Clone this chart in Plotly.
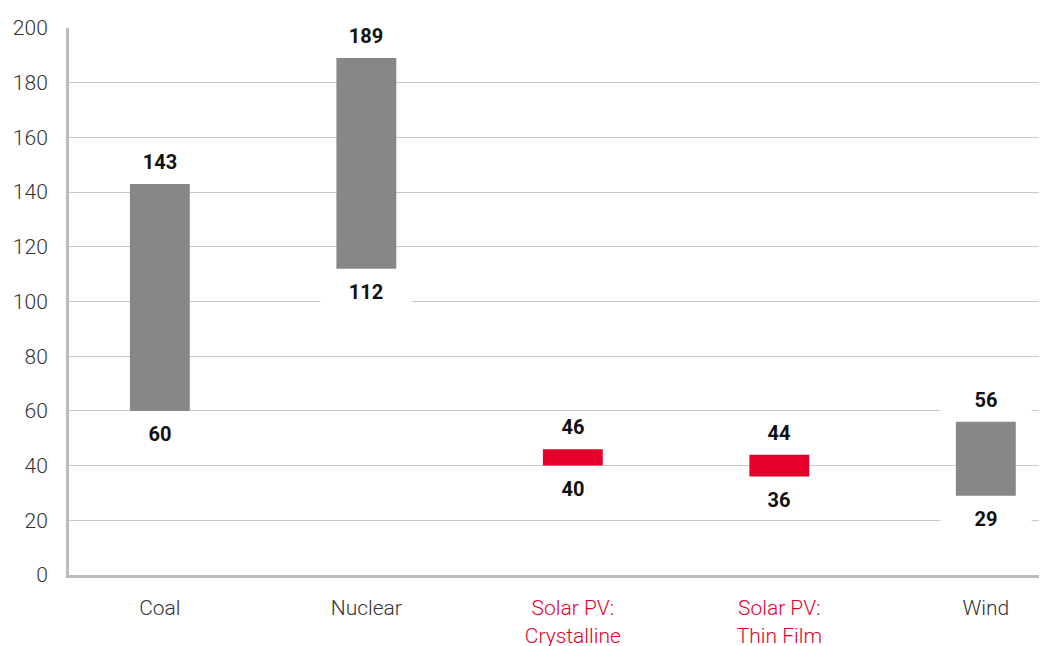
import plotly.graph_objects as go

categories = ["Coal", "Nuclear", "Solar PV:<br>Crystalline", "Solar PV:<br>Thin Film", "Wind"]
low_values = [60, 112, 40, 36, 29]
high_values = [143, 189, 46, 44, 56]
is_solar = [False, False, True, True, False]
y_ticks = [0, 20, 40, 60, 80, 100, 120, 140, 160, 180, 200]

GRAY = "#878785"
RED = "#e4002b"
FONT = "Roboto, DejaVu Sans, sans-serif"

colors = [RED if s else GRAY for s in is_solar]
x_idx = list(range(len(categories)))

fig = go.Figure()
fig.add_trace(go.Bar(
    x=x_idx,
    y=[h - l for h, l in zip(high_values, low_values)],
    base=low_values,
    marker=dict(color=colors, line=dict(width=0)),
    width=0.29,
    hoverinfo="skip",
))

annotations = []
for i, (lo, hi) in enumerate(zip(low_values, high_values)):
    for val, shift in ((hi, 22), (lo, -23)):
        annotations.append(dict(
            x=i, y=val, xref="x", yref="y", text=f"<b>{val}</b>",
            showarrow=False, yshift=shift, yanchor="middle",
            font=dict(family=FONT, size=20, color="#111"),
            bgcolor="white", width=88, height=26,
        ))

ticktext = [
    f"<span style='color:{RED if s else '#333'}'>{c}</span>" for c, s in zip(categories, is_solar)
]

fig.update_layout(
    width=1047, height=646,
    margin=dict(l=61, r=0, t=20, b=79),
    paper_bgcolor="white", plot_bgcolor="white",
    showlegend=False,
    annotations=annotations,
    font=dict(family=FONT, size=20, color="#333"),
    xaxis=dict(
        range=[-0.44, 4.335],
        tickmode="array", tickvals=x_idx, ticktext=ticktext,
        showgrid=False, zeroline=False,
        showline=True, linewidth=3, linecolor="#bbbbbb",
        ticks="", ticklabelstandoff=12, automargin=False,
        tickfont=dict(family=FONT, size=21, color="#333", weight=300),
    ),
    yaxis=dict(
        range=[0, 200],
        tickmode="array", tickvals=y_ticks,
        showgrid=True, gridcolor="#c8c8c8", gridwidth=1,
        zeroline=False,
        showline=True, linewidth=3, linecolor="#bbbbbb",
        ticks="", ticklabelstandoff=14, automargin=False,
        tickfont=dict(family=FONT, size=21, color="#333", weight=300),
    ),
)

fig.write_html("out.html")
